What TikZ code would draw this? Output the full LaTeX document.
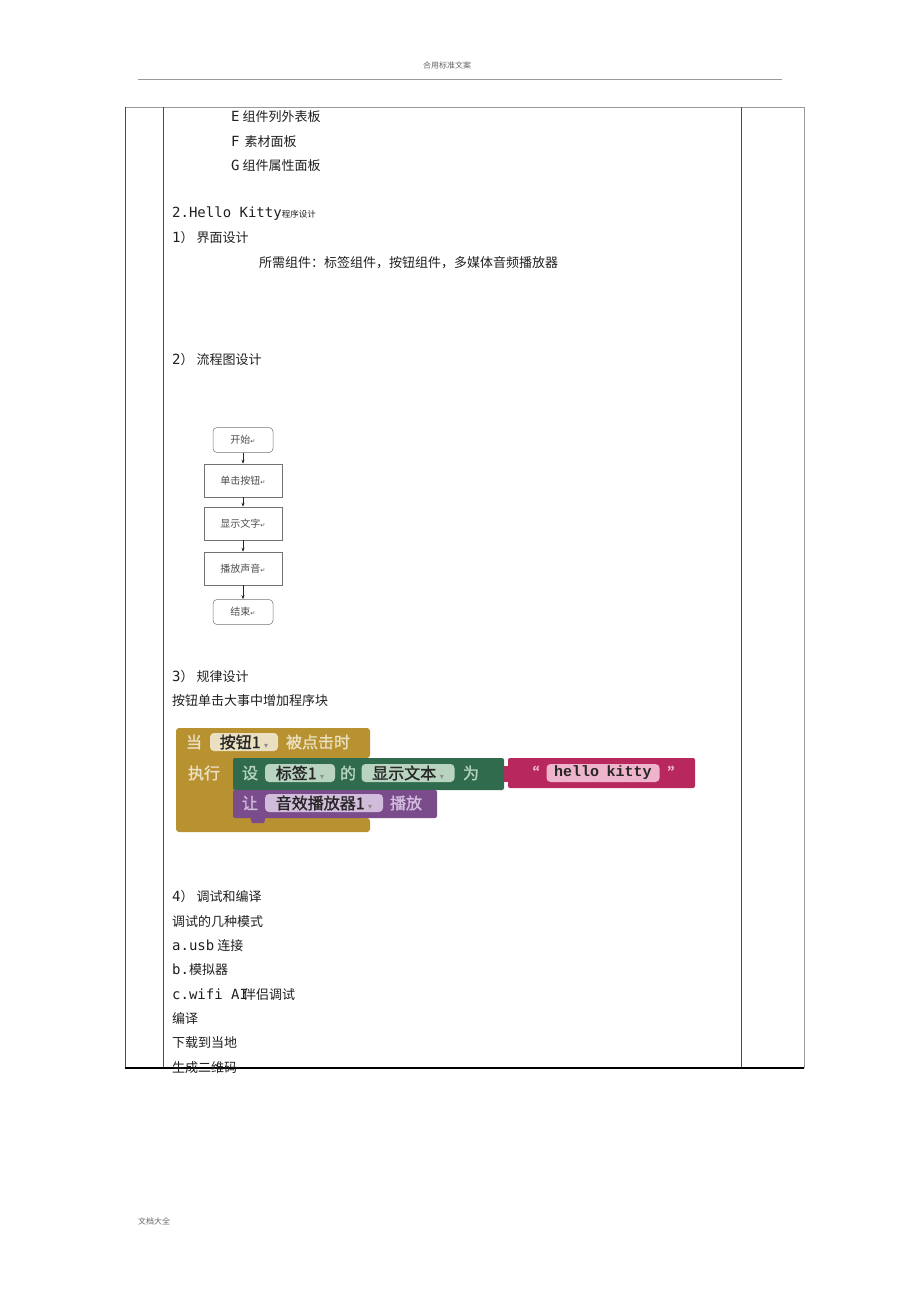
\documentclass[tikz,border=0pt]{standalone}
\usepackage{fontspec}
\setmainfont{Noto Sans CJK SC}
\newfontfamily\latf{DejaVu Sans Mono}
\newfontfamily\symf{DejaVu Sans}
\newfontfamily\codef{Liberation Mono}
\newfontfamily\blkf[FakeBold=1.5]{Noto Sans CJK SC}
\usetikzlibrary{arrows.meta}
\newcommand{\LT}[1]{{\latf\fontsize{14}{14}\selectfont #1}}
\newcommand{\dd}{{\symf\fontsize{8}{8}\selectfont\color{black!45}▾}}
\definecolor{goldc}{HTML}{B89230}
\definecolor{goldf}{HTML}{EADFC0}
\definecolor{greenc}{HTML}{2F6B4C}
\definecolor{greenf}{HTML}{B8D4C0}
\definecolor{pinkc}{HTML}{B8285C}
\definecolor{pinkf}{HTML}{EDB4CB}
\definecolor{purplec}{HTML}{7A4C8C}
\definecolor{purplef}{HTML}{D2BCDC}
\begin{document}
\begin{tikzpicture}[x=1pt,y=-1pt,
  txt/.style={anchor=west,inner sep=0pt,font=\fontsize{13}{13}\selectfont,text=black!88},
  small/.style={inner sep=0pt,font=\fontsize{8}{8}\selectfont,text=black!60},
  flowbox/.style={draw=black!55,line width=0.5pt,minimum width=78pt,minimum height=33pt,inner sep=0pt,font=\fontsize{10}{10}\selectfont,text=black!70},
  flowround/.style={flowbox,rounded corners=4pt,minimum width=60pt,minimum height=25pt},
  flowarr/.style={-{Stealth[length=4pt,width=3pt]},line width=0.6pt,black!85},
  lbl/.style={inner sep=0pt,font=\blkf\fontsize{16}{16}\selectfont},
  pill/.style={rounded corners=4pt,inner sep=0pt,minimum height=18pt,font=\blkf\fontsize{16}{16}\selectfont,text=black!85},
  tline/.style={line width=0.8pt,black!70},
  gline/.style={line width=0.6pt,black!40}
]
\useasboundingbox (0,0) rectangle (920,1302);

% header / footer
\node[small] (hdr) at (447,65) {合用标准文案};
\coordinate (hl) at (138,79);
\coordinate (hr) at (782,79);
\draw[gline] (hl) -- (hr);
\node[small,anchor=west] (ftr) at (138,1221) {文档大全};

% table
\coordinate (tl) at (125,107);
\coordinate (tr) at (804,107);
\coordinate (bl) at (125,1068);
\coordinate (br) at (804,1068);
\draw[gline] (tl) -- (tr);
\draw[tline] (tl) -- (bl);
\draw[tline] (163,107) -- (163,1068);
\draw[tline] (741,107) -- (741,1068);
\draw[gline] (tr) -- (br);
\draw[line width=1.2pt,black] (bl) -- (br);

% texts
\node[txt] (tE) at (231,117) {\LT{E} 组件列外表板};
\node[txt] (tF) at (231,142) {\LT{F} \,素材面板};
\node[txt] (tG) at (231,166) {\LT{G} 组件属性面板};
\node[txt] (t2) at (172,214) {\LT{2.Hello Kitty}{\fontsize{8.5}{8.5}\selectfont 程序设计}};
\node[txt] (t21) at (172,238) {\LT{1}） 界面设计};
\node[txt] (t21a) at (259,263) {所需组件：标签组件，按钮组件，多媒体音频播放器};
\node[txt] (t22) at (172,360) {\LT{2}） 流程图设计};
\node[txt] (t23) at (172,677) {\LT{3}） 规律设计};
\node[txt] (t23a) at (172,701) {按钮单击大事中增加程序块};
\node[txt] (t24) at (172,897) {\LT{4}） 调试和编译};
\node[txt] (t24a) at (172,922) {调试的几种模式};
\node[txt] (t24b) at (172,946) {\LT{a.usb} 连接};
\node[txt] (t24c) at (172,970) {\LT{b.}模拟器};
\node[txt] (t24d) at (172,995) {\LT{c.wifi AI}\kern-5pt 伴侣调试};
\node[txt] (t24e) at (172,1019) {编译};
\node[txt] (t24f) at (172,1043) {下载到当地};
\node[txt] (t24g) at (172,1068) {生成二维码};

% flowchart
\node[flowround] (fs) at (243,440) {开始{\symf\fontsize{6}{6}\selectfont ↵}};
\node[flowbox] (fa) at (243,480.5) {单击按钮{\symf\fontsize{6}{6}\selectfont ↵}};
\node[flowbox] (fb) at (243,523.5) {显示文字{\symf\fontsize{6}{6}\selectfont ↵}};
\node[flowbox] (fc) at (243,568.5) {播放声音{\symf\fontsize{6}{6}\selectfont ↵}};
\node[flowround] (fe) at (243,612) {结束{\symf\fontsize{6}{6}\selectfont ↵}};
\draw[flowarr] (fs) -- (fa);
\draw[flowarr] (fa) -- (fb);
\draw[flowarr] (fb) -- (fc);
\draw[flowarr] (fc) -- (fe);

% blocks
\fill[goldc,rounded corners=3pt] (176,728) -- (370,728) -- (370,758) -- (240,758) -- (240,818) -- (370,818) -- (370,832) -- (176,832) -- cycle;
\fill[goldc] (226,750) rectangle (245,825);
\fill[pinkc] (500,766) rectangle (512,782);
\fill[pinkc,rounded corners=2pt] (508,758) rectangle (695,788);
\fill[greenc,rounded corners=2pt] (233,758) rectangle (504,790);
\fill[purplec,rounded corners=2pt] (233,790) rectangle (437,818);
\fill[purplec] (250,816) -- (266,816) -- (264,823) -- (252,823) -- cycle;

\node[lbl,text=goldf] (bw) at (194,742) {当};
\node[pill,fill=goldf,minimum width=68pt] (b1) at (244,742) {按钮1 \dd};
\node[lbl,text=goldf] (bc) at (318,742) {被点击时};
\node[lbl,text=goldf] (bx) at (204,773) {执行};

\node[lbl,text=greenf] (gs) at (250,773) {设};
\node[pill,fill=greenf,minimum width=70pt] (g1) at (300,773) {标签1 \dd};
\node[lbl,text=greenf] (gd) at (348,773) {的};
\node[pill,fill=greenf,minimum width=93pt] (g2) at (408,773) {显示文本 \dd};
\node[lbl,text=greenf] (gw) at (471,773) {为};

\node[lbl,text=pinkf,font=\blkf\fontsize{17}{17}\selectfont] (q1) at (531,773) {“};
\node[pill,fill=pinkf,minimum width=113pt,font=\codef\bfseries\fontsize{15}{15}\selectfont] (hk) at (603,773) {hello\,\,\,kitty};
\node[lbl,text=pinkf,font=\blkf\fontsize{17}{17}\selectfont] (q2) at (676,773) {”};

\node[lbl,text=purplef] (pr) at (250,803) {让};
\node[pill,fill=purplef,minimum width=118pt] (p1) at (324,803) {音效播放器1 \dd};
\node[lbl,text=purplef] (pp) at (406,803) {播放};
\end{tikzpicture}
\end{document}
